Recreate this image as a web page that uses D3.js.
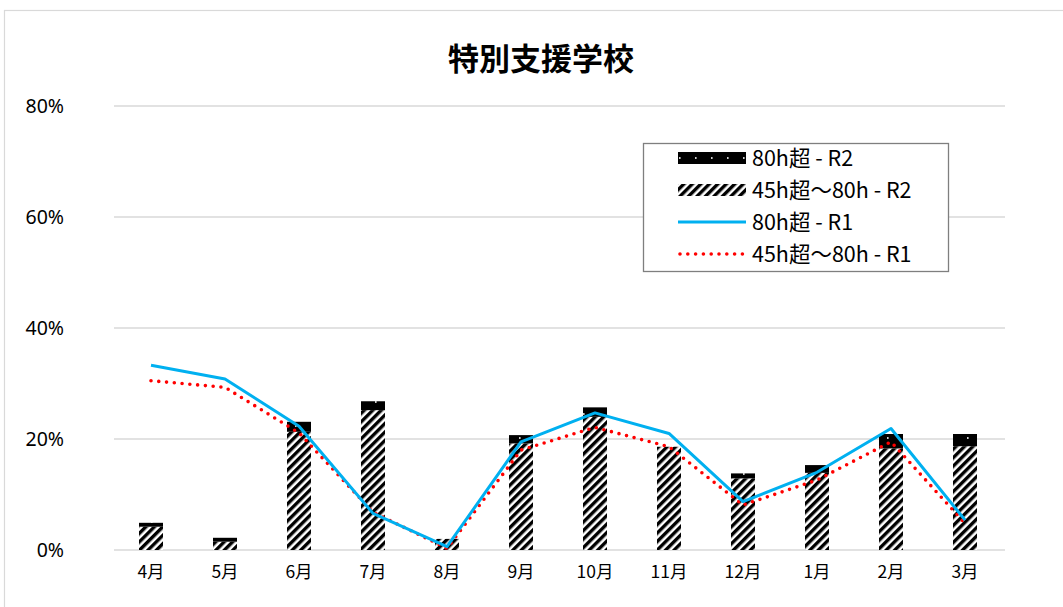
<!DOCTYPE html>
<html>
<head>
<meta charset="utf-8">
<script src="https://cdn.jsdelivr.net/npm/d3@7"></script>
<style>
  html, body { margin: 0; padding: 0; background: #fff; }
  svg { display: block; font-family: "Noto Sans CJK JP", "Noto Sans", sans-serif; }
</style>
</head>
<body>
<svg id="chart" width="1063" height="607"></svg>
<script>
// Monthly share of teachers by overtime band, special-needs schools
const months = ["4月","5月","6月","7月","8月","9月","10月","11月","12月","1月","2月","3月"];
// R2 bars (stacked): 45h超〜80h and 80h超
const r2Mid  = [0.042, 0.015, 0.213, 0.252, 0.020, 0.192, 0.240, 0.186, 0.129, 0.139, 0.183, 0.187];
const r2Over = [0.007, 0.007, 0.018, 0.016, 0.000, 0.015, 0.017, 0.000, 0.009, 0.014, 0.026, 0.022];
// R1 lines
const r1Over = [0.333, 0.308, 0.223, 0.066, 0.006, 0.195, 0.247, 0.210, 0.087, 0.140, 0.219, 0.054];
const r1Mid  = [0.305, 0.293, 0.211, 0.068, 0.003, 0.180, 0.221, 0.186, 0.081, 0.126, 0.195, 0.048];
const yTicks = [0, 0.2, 0.4, 0.6, 0.8];
const legendLabels = ["80h超 - R2", "45h超〜80h - R2", "80h超 - R1", "45h超〜80h - R1"];

const svg = d3.select("#chart");
const W = 1063, H = 607;
const plot = { left: 114, right: 1002, top: 106, bottom: 550 };

const x = d3.scaleBand().domain(months).range([plot.left, plot.right]).paddingInner(0).paddingOuter(0);
const y = d3.scaleLinear().domain([0, 0.8]).range([plot.bottom, plot.top]);

// patterns
const defs = svg.append("defs");
const hatch = defs.append("pattern").attr("id", "hatch")
  .attr("patternUnits", "userSpaceOnUse").attr("width", 6).attr("height", 6)
  .attr("patternTransform", "rotate(45)");
hatch.append("rect").attr("width", 6).attr("height", 6).attr("fill", "#fff");
hatch.append("rect").attr("width", 3.4).attr("height", 6).attr("fill", "#000");

function dotPattern(id, y0) {
  const p = defs.append("pattern").attr("id", id)
    .attr("patternUnits", "userSpaceOnUse").attr("x", 0).attr("y", y0)
    .attr("width", 16).attr("height", 12);
  p.append("rect").attr("width", 16).attr("height", 12).attr("fill", "#000");
  p.append("rect").attr("x", 7).attr("y", 5.2).attr("width", 1.6).attr("height", 1.6).attr("fill", "#fff");
}
dotPattern("dots", 0);
dotPattern("dotsLegend", 152);

// outer frame
svg.append("rect").attr("x", 4.5).attr("y", 10.5).attr("width", W + 10).attr("height", H + 10)
  .attr("fill", "none").attr("stroke", "#d9d9d9").attr("stroke-width", 1.2);

// title
svg.append("text").attr("x", 541).attr("y", 70).attr("text-anchor", "middle")
  .attr("font-size", 31).attr("font-weight", "bold").attr("fill", "#000").text("特別支援学校");

// gridlines
svg.append("g").selectAll("line").data(yTicks).join("line")
  .attr("x1", plot.left).attr("x2", plot.right + 3)
  .attr("y1", d => y(d)).attr("y2", d => y(d))
  .attr("stroke", "#d9d9d9").attr("stroke-width", 1.6);

// y axis labels
const yAxis = d3.axisLeft(y).tickValues(yTicks).tickFormat(d3.format(".0%")).tickSize(0).tickPadding(0);
const gy = svg.append("g").attr("transform", `translate(64,0)`).call(yAxis);
gy.select(".domain").remove();
gy.selectAll("text").attr("font-size", 19.5).attr("fill", "#000")
  .attr("font-family", "'Noto Sans', sans-serif");

// x axis labels
const xAxis = d3.axisBottom(x).tickSize(0).tickPadding(0);
const gx = svg.append("g").attr("transform", `translate(0,${plot.bottom + 22})`).call(xAxis);
gx.select(".domain").remove();
gx.selectAll("text").attr("font-size", 17.5).attr("fill", "#000").attr("dy", "0.35em")
  .attr("font-family", "'Noto Sans CJK JP', sans-serif");

// bars
const barW = 24;
const bars = svg.append("g");
bars.selectAll("rect.mid").data(months).join("rect").attr("class", "mid")
  .attr("x", d => x(d) + x.bandwidth() / 2 - barW / 2)
  .attr("width", barW)
  .attr("y", (d, i) => y(r2Mid[i]))
  .attr("height", (d, i) => y(0) - y(r2Mid[i]))
  .attr("fill", "url(#hatch)");
bars.selectAll("rect.over").data(months).join("rect").attr("class", "over")
  .attr("x", d => x(d) + x.bandwidth() / 2 - barW / 2)
  .attr("width", barW)
  .attr("y", (d, i) => y(r2Mid[i] + r2Over[i]))
  .attr("height", (d, i) => y(r2Mid[i]) - y(r2Mid[i] + r2Over[i]))
  .attr("fill", "url(#dots)");

// lines
const cx = d => x(d) + x.bandwidth() / 2;
const line = arr => d3.line().x((d, i) => cx(months[i])).y(d => y(d))(arr);

svg.append("path").attr("d", line(r1Mid)).attr("fill", "none")
  .attr("stroke", "#ff0000").attr("stroke-width", 3.6)
  .attr("stroke-linecap", "round").attr("stroke-dasharray", "0 7.8");
svg.append("path").attr("d", line(r1Over)).attr("fill", "none")
  .attr("stroke", "#00b0f0").attr("stroke-width", 3).attr("stroke-linejoin", "round");

// legend
const lg = svg.append("g");
lg.append("rect").attr("x", 643.5).attr("y", 143.5).attr("width", 305).attr("height", 128)
  .attr("fill", "#fff").attr("stroke", "#7f7f7f").attr("stroke-width", 1.3);
const rowY = [158, 190, 222, 254];
const sx0 = 678, sx1 = 746;
lg.append("rect").attr("x", sx0).attr("y", rowY[0] - 6).attr("width", sx1 - sx0).attr("height", 12).attr("fill", "url(#dotsLegend)");
lg.append("rect").attr("x", sx0).attr("y", rowY[1] - 6).attr("width", sx1 - sx0).attr("height", 12).attr("fill", "url(#hatch)");
lg.append("line").attr("x1", sx0).attr("x2", sx1).attr("y1", rowY[2]).attr("y2", rowY[2])
  .attr("stroke", "#00b0f0").attr("stroke-width", 3);
lg.append("line").attr("x1", sx0 + 2).attr("x2", sx1).attr("y1", rowY[3]).attr("y2", rowY[3])
  .attr("stroke", "#ff0000").attr("stroke-width", 3.6).attr("stroke-linecap", "round").attr("stroke-dasharray", "0 7.8");
lg.selectAll("text").data(legendLabels).join("text")
  .attr("x", 752).attr("y", (d, i) => rowY[i]).attr("dy", "0.36em")
  .attr("font-size", 21.5).attr("fill", "#000").text(d => d);
</script>
</body>
</html>
